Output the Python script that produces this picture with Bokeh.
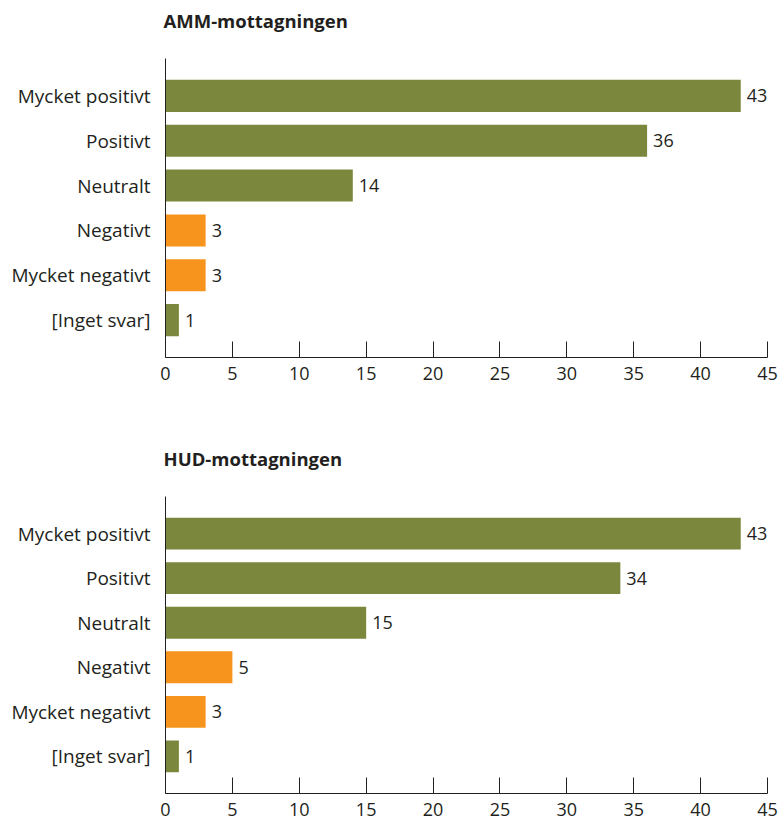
from bokeh.plotting import figure
from bokeh.layouts import column
from bokeh.models import FactorRange, Range1d, FixedTicker, ColumnDataSource, Title
from bokeh.core.properties import value
from bokeh.embed import file_html
from bokeh.resources import INLINE

categories = ["Mycket positivt", "Positivt", "Neutralt", "Negativt", "Mycket negativt", "[Inget svar]"]
amm_values = [43, 36, 14, 3, 3, 1]
hud_values = [43, 34, 15, 5, 3, 1]
titles = ["AMM-mottagningen", "HUD-mottagningen"]
x_ticks = [0, 5, 10, 15, 20, 25, 30, 35, 40, 45]

GREEN = "#7a873c"
ORANGE = "#f7941d"
TEXT = "#231f20"
FONT = "Open Sans"
negative_cats = {"Negativt", "Mycket negativt"}


def make_chart(title, values, height, border_bottom):
    colors = [ORANGE if c in negative_cats else GREEN for c in categories]
    src = ColumnDataSource(dict(cat=categories, val=values, color=colors,
                                lbl=[str(v) for v in values]))
    p = figure(width=779, height=height, output_backend="svg", toolbar_location=None,
               title=None,
               y_range=FactorRange(factors=list(reversed(categories)),
                                   range_padding=0.333, range_padding_units="absolute"),
               x_range=Range1d(0, 45),
               min_border_left=165, min_border_right=12, min_border_top=58,
               min_border_bottom=border_bottom)
    p.hbar(y="cat", right="val", left=0, height=0.714, color="color", source=src, line_color=None)
    p.text(x="val", y="cat", text="lbl", source=src, x_offset=6, text_baseline="middle",
           text_font_size="18px", text_color=TEXT, text_font=value(FONT))
    # spacer between title and plot area
    p.add_layout(Title(text=" ", text_font=FONT, text_font_size="10px", standoff=10,
                       text_color="white"), "above")
    p.add_layout(Title(text=title, text_font=FONT, text_font_size="18.5px",
                       text_font_style="bold", text_color=TEXT, align="left",
                       offset=-2, standoff=0), "above")
    p.outline_line_color = None
    p.xgrid.grid_line_color = None
    p.ygrid.grid_line_color = None
    xa = p.xaxis[0]
    xa.ticker = FixedTicker(ticks=x_ticks)
    xa.major_tick_in = 16
    xa.major_tick_out = 0
    xa.minor_tick_line_color = None
    xa.axis_line_color = TEXT
    xa.major_tick_line_color = TEXT
    xa.major_label_text_font = FONT
    xa.major_label_text_font_size = "18px"
    xa.major_label_text_color = TEXT
    xa.major_label_standoff = 9
    ya = p.yaxis[0]
    ya.major_tick_line_color = None
    ya.minor_tick_line_color = None
    ya.major_tick_in = 0
    ya.major_tick_out = 0
    ya.axis_line_color = TEXT
    ya.major_label_text_font = FONT
    ya.major_label_text_font_size = "19px"
    ya.major_label_text_color = TEXT
    ya.major_label_standoff = 15
    return p


p1 = make_chart(titles[0], amm_values, 438, 81)
p2 = make_chart(titles[1], hud_values, 382, 27)
layout = column(p1, p2)
open("out.html", "w").write(file_html(layout, INLINE))
